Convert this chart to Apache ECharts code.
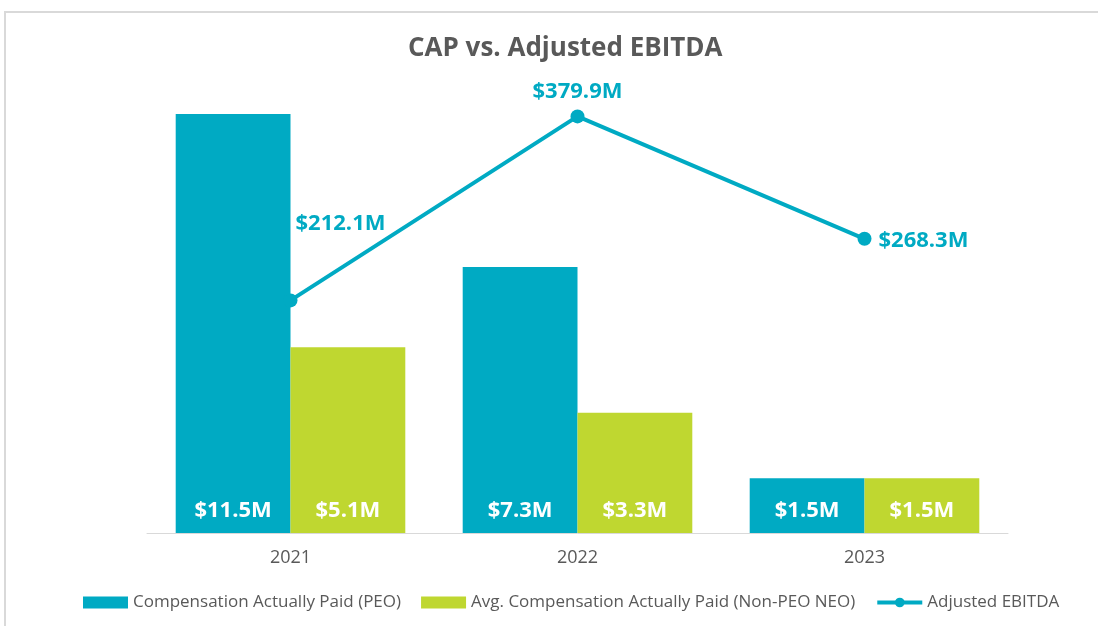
<!DOCTYPE html>
<html>
<head>
<meta charset="utf-8">
<script src="https://cdn.jsdelivr.net/npm/echarts@6/dist/echarts.min.js"></script>
<style>
  html, body { margin: 0; padding: 0; background: #fff; }
  #chart { width: 1098px; height: 626px; }
</style>
</head>
<body>
<div id="chart"></div>
<script>
const years = ['2021', '2022', '2023'];
const capPeo = [11.5, 7.3, 1.5];
const capNonPeo = [5.1, 3.3, 1.5];
const adjEbitda = [212.1, 379.9, 268.3];

const teal = '#00AAC3';
const lime = '#BFD730';
const grey = '#595959';

const chart = echarts.init(document.getElementById('chart'));

const barLabel = {
  show: true,
  position: 'insideBottom',
  distance: 11,
  color: '#fff',
  fontFamily: 'Open Sans',
  fontWeight: 'bold',
  fontSize: 22,
  formatter: p => '$' + p.value.toFixed(1) + 'M'
};

// label placement per point, roughly like the excel original
const lineLabelPos = [
  { position: 'top', offset: [50, -54] },
  { position: 'top', offset: [0, -2] },
  { position: 'right', offset: [2, 2] }
];

chart.setOption({
  animation: false,
  graphic: [{
    type: 'rect',
    shape: { x: 5, y: 12, width: 1110, height: 640 },
    style: { fill: 'none', stroke: '#d9d9d9', lineWidth: 2 },
    silent: true
  }],
  title: {
    text: 'CAP vs. Adjusted EBITDA',
    left: 403,
    top: 31,
    textStyle: { color: grey, fontFamily: 'Open Sans', fontWeight: 'bold', fontSize: 26 }
  },
  legend: {
    bottom: 10,
    left: 78,
    itemGap: 20,
    itemWidth: 45,
    itemHeight: 12,
    textStyle: { color: grey, fontFamily: 'Open Sans', fontSize: 17 },
    data: [
      { name: 'Compensation Actually Paid (PEO)', icon: 'rect' },
      { name: 'Avg. Compensation Actually Paid (Non-PEO NEO)', icon: 'rect' },
      { name: 'Adjusted EBITDA', lineStyle: { width: 4 } }
    ]
  },
  grid: { left: 147, right: 90, top: 80, bottom: 93 },
  xAxis: {
    type: 'category',
    data: years,
    axisLine: { lineStyle: { color: '#d9d9d9', width: 1 } },
    axisTick: { show: false },
    axisLabel: { color: grey, fontFamily: 'Open Sans', fontSize: 18, margin: 16 }
  },
  yAxis: [
    { type: 'value', min: 0, max: 12.43, show: false, splitLine: { show: false } },
    { type: 'value', min: 0, max: 413.1, show: false, splitLine: { show: false } }
  ],
  series: [
    {
      name: 'Compensation Actually Paid (PEO)',
      type: 'bar',
      data: capPeo,
      barGap: '0%',
      barCategoryGap: '20%',
      itemStyle: { color: teal },
      label: barLabel
    },
    {
      name: 'Avg. Compensation Actually Paid (Non-PEO NEO)',
      type: 'bar',
      data: capNonPeo,
      itemStyle: { color: lime },
      label: barLabel
    },
    {
      name: 'Adjusted EBITDA',
      type: 'line',
      yAxisIndex: 1,
      data: adjEbitda.map((v, i) => ({ value: v, label: lineLabelPos[i] })),
      symbol: 'circle',
      symbolSize: 14,
      lineStyle: { color: teal, width: 4 },
      itemStyle: { color: teal },
      label: {
        show: true,
        color: teal,
        fontFamily: 'Open Sans',
        fontWeight: 'bold',
        fontSize: 22,
        formatter: p => '$' + p.value.toFixed(1) + 'M'
      },
      z: 5
    }
  ]
});
</script>
</body>
</html>
